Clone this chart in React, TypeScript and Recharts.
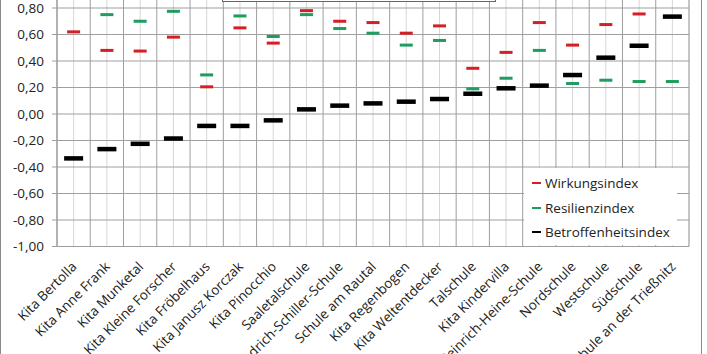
import React from 'react';
import {
  ComposedChart,
  Line,
  XAxis,
  YAxis,
  CartesianGrid,
  ReferenceLine,
} from 'recharts';

const categories = [
  'Kita Bertolla',
  'Kita Anne Frank',
  'Kita Munketal',
  'Kita Kleine Forscher',
  'Kita Fröbelhaus',
  'Kita Janusz Korczak',
  'Kita Pinocchio',
  'Saaletalschule',
  'Friedrich-Schiller-Schule',
  'Schule am Rautal',
  'Kita Regenbogen',
  'Kita Weltentdecker',
  'Talschule',
  'Kita Kindervilla',
  'Heinrich-Heine-Schule',
  'Nordschule',
  'Westschule',
  'Südschule',
  'Schule an der Trießnitz',
];

const wirkungsindex = [
  0.62, 0.48, 0.475, 0.58, 0.205, 0.65, 0.535, 0.78, 0.7, 0.69,
  0.61, 0.665, 0.345, 0.465, 0.69, 0.52, 0.675, 0.755, null,
];

const resilienzindex = [
  null, 0.75, 0.7, 0.775, 0.295, 0.74, 0.585, 0.75, 0.645, 0.61,
  0.52, 0.555, 0.19, 0.27, 0.48, 0.23, 0.255, 0.245, 0.245,
];

const betroffenheitsindex = [
  -0.335, -0.265, -0.225, -0.185, -0.09, -0.09, -0.048, 0.035, 0.063, 0.08,
  0.093, 0.113, 0.153, 0.194, 0.214, 0.294, 0.425, 0.515, 0.735,
];

const yTicks = [-1, -0.8, -0.6, -0.4, -0.2, 0, 0.2, 0.4, 0.6, 0.8, 1];

const series = [
  { key: 'wirkung', name: 'Wirkungsindex', color: '#d41f26', w: 13, h: 3 },
  { key: 'resilienz', name: 'Resilienzindex', color: '#1f9c60', w: 13, h: 3 },
  { key: 'betroffen', name: 'Betroffenheitsindex', color: '#000000', w: 19, h: 4.5 },
];

const data = categories.map((name, i) => ({
  x: i + 0.5,
  name,
  wirkung: wirkungsindex[i],
  resilienz: resilienzindex[i],
  betroffen: betroffenheitsindex[i],
}));

const centers = categories.map((_, i) => i + 0.5);
const bounds = categories.map((_, i) => i).concat([categories.length]);

const FONT = "'Open Sans', sans-serif";
const GRID = '#9f9f9f';
const GRID_LIGHT = '#d6d6d6';

const fmt = (v: number) => v.toFixed(2).replace('.', ',');

function dash(color: string, w: number, h: number) {
  return (props: any) => {
    const { cx, cy, value } = props;
    if (value == null || cy == null || isNaN(cy)) return <g />;
    return <rect x={cx - w / 2} y={cy - h / 2} width={w} height={h} fill={color} />;
  };
}

function XTick({ x, y, payload }: any) {
  const label = categories[Math.floor(payload.value)];
  return (
    <g transform={`translate(${x + 4},${y + 21})`}>
      <text
        transform="rotate(-45)"
        textAnchor="end"
        fontSize={13.5}
        fill="#222"
        fontFamily={FONT}
      >
        {label}
      </text>
    </g>
  );
}

export default function App() {
  return (
    <div
      style={{
        position: 'absolute',
        left: 0,
        top: 0,
        width: 707,
        height: 354,
        overflow: 'hidden',
        background: '#fff',
        fontFamily: FONT,
      }}
    >
      {/* outer chart frame */}
      <div
        style={{
          position: 'absolute',
          left: 0,
          top: -10,
          width: 700,
          height: 400,
          borderLeft: '1px solid #8a8a8a',
          borderRight: '1px solid #8a8a8a',
        }}
      />
      <div style={{ position: 'absolute', left: 0, top: -40 }}>
        <ComposedChart
          width={707}
          height={394}
          data={data}
          margin={{ top: 21.5, right: 18, left: 0, bottom: 0 }}
        >
          <CartesianGrid horizontal={false} stroke={GRID_LIGHT} />
          <CartesianGrid vertical={false} stroke={GRID} />
          {bounds.map((b) => (
            <ReferenceLine key={b} x={b} stroke={GRID} />
          ))}
          <XAxis
            type="number"
            dataKey="x"
            domain={[0, categories.length]}
            ticks={centers}
            interval={0}
            tick={<XTick />}
            tickLine={false}
            axisLine={false}
            tickSize={0}
            tickMargin={0}
            height={107.5}
          />
          <YAxis
            type="number"
            domain={[-1, 1]}
            ticks={yTicks}
            interval={0}
            tickFormatter={fmt}
            width={57}
            axisLine={{ stroke: GRID }}
            tickLine={{ stroke: GRID }}
            tickSize={5}
            tickMargin={8}
            tick={{ fill: '#222', fontSize: 13.5, fontFamily: FONT }}
          />
          {series.map((s) => (
            <Line
              key={s.key}
              dataKey={s.key}
              name={s.name}
              stroke="none"
              dot={dash(s.color, s.w, s.h)}
              activeDot={false}
              isAnimationActive={false}
              connectNulls={false}
            />
          ))}
        </ComposedChart>
      </div>
      {/* title box, cut off at the top */}
      <div
        style={{
          position: 'absolute',
          left: 222,
          top: -20,
          width: 272,
          height: 20,
          border: '1px solid #666',
          background: '#fff',
        }}
      />
      {/* legend */}
      <div
        style={{
          position: 'absolute',
          left: 524,
          top: 168,
          width: 153,
          height: 77,
          background: '#fff',
          fontSize: 13.5,
          color: '#222',
        }}
      >
        {series.map((s, i) => (
          <div
            key={s.key}
            style={{
              position: 'absolute',
              left: 8,
              top: 6 + i * 24.5,
              display: 'flex',
              alignItems: 'center',
              whiteSpace: 'nowrap',
            }}
          >
            <span
              style={{
                display: 'inline-block',
                width: 9,
                height: 2,
                background: s.color,
                marginRight: 4,
              }}
            />
            <span>{s.name}</span>
          </div>
        ))}
      </div>
    </div>
  );
}
